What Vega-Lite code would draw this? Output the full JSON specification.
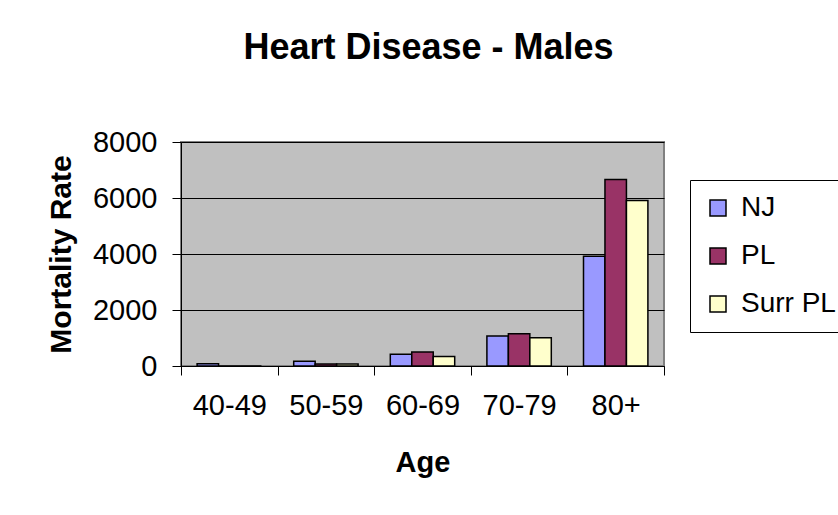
{
  "$schema": "https://vega.github.io/schema/vega-lite/v6.json",
  "autosize": "none",
  "width": 483,
  "height": 224,
  "padding": {"left": 181, "top": 142, "right": 174, "bottom": 149},
  "background": "white",
  "title": {"text": "Heart Disease - Males", "fontSize": 36, "font": "Liberation Sans", "fontWeight": "bold", "color": "black", "anchor": "middle", "offset": 61, "dx": 6},
  "data": {"values": [
    {"age": "40-49", "region": "NJ", "rate": 80},
    {"age": "40-49", "region": "PL", "rate": 0},
    {"age": "40-49", "region": "Surr PL", "rate": 0},
    {"age": "50-59", "region": "NJ", "rate": 170},
    {"age": "50-59", "region": "PL", "rate": 70},
    {"age": "50-59", "region": "Surr PL", "rate": 70},
    {"age": "60-69", "region": "NJ", "rate": 420},
    {"age": "60-69", "region": "PL", "rate": 500},
    {"age": "60-69", "region": "Surr PL", "rate": 340},
    {"age": "70-79", "region": "NJ", "rate": 1070},
    {"age": "70-79", "region": "PL", "rate": 1150},
    {"age": "70-79", "region": "Surr PL", "rate": 1010},
    {"age": "80+", "region": "NJ", "rate": 3920},
    {"age": "80+", "region": "PL", "rate": 6660},
    {"age": "80+", "region": "Surr PL", "rate": 5910}
  ]},
  "mark": {"type": "bar", "stroke": "black", "strokeWidth": 1.5},
  "encoding": {
    "x": {"field": "age", "type": "nominal", "sort": null,
      "scale": {"paddingInner": 0, "paddingOuter": 0},
      "axis": {"title": "Age", "labelAngle": 0, "tickBand": "extent", "tickSize": 9, "tickColor": "black", "domainColor": "black", "labelFontSize": 29, "labelFont": "Liberation Sans", "labelColor": "black", "labelPadding": 16, "titleFontSize": 29, "titleFont": "Liberation Sans", "titleFontWeight": "bold", "titleColor": "black", "titlePadding": 28, "grid": false}},
    "xOffset": {"field": "region", "type": "nominal", "scale": {"paddingInner": 0, "paddingOuter": 0.75}},
    "y": {"field": "rate", "type": "quantitative",
      "scale": {"domain": [0, 8000], "nice": false},
      "axis": {"title": "Mortality Rate", "values": [0, 2000, 4000, 6000, 8000], "format": "d", "tickSize": 9, "tickColor": "black", "domainColor": "black", "gridColor": "black", "gridWidth": 1, "labelFontSize": 29, "labelFont": "Liberation Sans", "labelColor": "black", "labelPadding": 15, "titleFontSize": 30, "titleFont": "Liberation Sans", "titleFontWeight": "bold", "titleColor": "black", "titlePadding": 16}},
    "fill": {"field": "region", "type": "nominal",
      "scale": {"domain": ["NJ", "PL", "Surr PL"], "range": ["#9999FF", "#993366", "#FFFFCC"]},
      "legend": {"title": null, "orient": "none", "legendX": 509, "legendY": 38, "direction": "vertical", "symbolType": "square", "symbolSize": 256, "symbolStrokeColor": "black", "symbolStrokeWidth": 1.5, "labelFontSize": 28, "labelFont": "Liberation Sans", "labelColor": "black", "rowPadding": 20, "padding": 14, "strokeColor": "black", "fillColor": "white", "labelOffset": 9}}
  },
  "config": {
    "view": {"fill": "#C0C0C0", "stroke": "#808080", "strokeWidth": 2},
    "axis": {"domainWidth": 1, "tickWidth": 1}
  }
}
